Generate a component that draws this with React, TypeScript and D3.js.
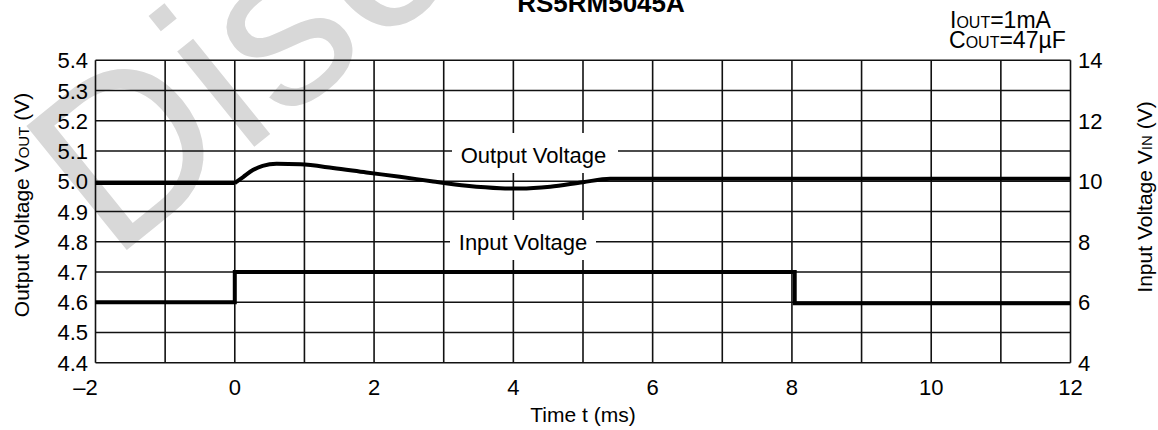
import React from "react";
import * as d3 from "d3";

// Time axis (ms)
const timeTicks = [-2, 0, 2, 4, 6, 8, 10, 12];
const timeGrid = [-2, -1, 0, 1, 2, 3, 4, 5, 6, 7, 8, 9, 10, 11, 12];
// Left axis: output voltage (V)
const voutTicks = [4.4, 4.5, 4.6, 4.7, 4.8, 4.9, 5.0, 5.1, 5.2, 5.3, 5.4];
// Right axis: input voltage (V)
const vinTicks = [4, 6, 8, 10, 12, 14];

// Input voltage step: 6 V -> 7 V at t = 0, back down at t ≈ 8 ms
const vinTime = [-2, 0, 0, 8.04, 8.04, 12];
const vinValue = [6, 6, 7, 7, 5.97, 5.97];

// Output voltage response (steady before the step, then transient)
const voutPreTime = [-2, 0];
const voutPreValue = [4.994, 4.994];
const voutTime = [0, 0.12, 0.26, 0.4, 0.6, 0.94, 1.41, 1.89, 2.37, 2.85, 3.33, 3.81, 4.1, 4.53, 5.0, 5.39, 5.6, 12];
const voutValue = [4.994, 5.014, 5.037, 5.051, 5.058, 5.056, 5.044, 5.029, 5.015, 4.999, 4.985, 4.977, 4.976, 4.982, 4.997, 5.008, 5.008, 5.008];

const W = 1158;
const H = 430;
const M = { left: 95.5, right: 1070.5, top: 60.3, bottom: 362.7 };
const FONT = "'Liberation Sans', Arial, Helvetica, sans-serif";

export default function App() {
  const x = d3.scaleLinear().domain([-2, 12]).range([M.left, M.right]);
  const yL = d3.scaleLinear().domain([4.4, 5.4]).range([M.bottom, M.top]);
  const yR = d3.scaleLinear().domain([4, 14]).range([M.bottom, M.top]);

  const vinPts: [number, number][] = vinTime.map((t, i) => [x(t), yR(vinValue[i])]);
  const prePts: [number, number][] = voutPreTime.map((t, i) => [x(t), yL(voutPreValue[i])]);
  const voutPts: [number, number][] = voutTime.map((t, i) => [x(t), yL(voutValue[i])]);

  const straight = d3.line();
  const smooth = d3.line().curve(d3.curveMonotoneX);

  const gridColor = "#111";

  return (
    <svg
      width={W}
      height={H}
      style={{ position: "absolute", left: 0, top: 0, background: "#fff" }}
      fontFamily={FONT}
    >
      {/* watermark */}
      <text
        transform="translate(112,262) rotate(-39)"
        fontSize={232}
        fill="#d8d8d8"
        fontFamily={FONT}
      >
        Discontinued
      </text>

      {/* title */}
      <text x={601} y={12} textAnchor="middle" fontSize={26} fontWeight="bold" fill="#000">
        RS5RM5045A
      </text>

      {/* conditions */}
      <text x={950} y={28} fontSize={23} fill="#000">
        I<tspan fontSize={16}>OUT</tspan>=1mA
      </text>
      <text x={949} y={48} fontSize={23} fill="#000">
        C<tspan fontSize={16}>OUT</tspan>=47µF
      </text>

      {/* grid */}
      <g stroke={gridColor} strokeWidth={1.6}>
        {timeGrid.map((t) => (
          <line key={"gx" + t} x1={x(t)} x2={x(t)} y1={M.top} y2={M.bottom} />
        ))}
        {voutTicks.map((v) => (
          <line key={"gy" + v} x1={M.left} x2={M.right} y1={yL(v)} y2={yL(v)} />
        ))}
      </g>

      {/* left ticks */}
      {voutTicks.map((v) => (
        <text key={"ly" + v} x={88} y={yL(v) + 8} textAnchor="end" fontSize={22} fill="#000">
          {v.toFixed(1)}
        </text>
      ))}
      {/* right ticks */}
      {vinTicks.map((v) => (
        <text key={"ry" + v} x={1078} y={yR(v) + 8} textAnchor="start" fontSize={22} fill="#000">
          {v}
        </text>
      ))}
      {/* bottom ticks */}
      {timeTicks.map((t) => (
        <text
          key={"bx" + t}
          x={x(t) + (t < 0 ? -10 : 0)}
          y={395}
          textAnchor="middle"
          fontSize={22}
          fill="#000"
        >
          {t < 0 ? "\u2013" + Math.abs(t) : String(t)}
        </text>
      ))}

      {/* axis titles */}
      <text x={583} y={422} textAnchor="middle" fontSize={21} fill="#000">
        Time t (ms)
      </text>
      <text transform="translate(29,205) rotate(-90)" textAnchor="middle" fontSize={21} fill="#000">
        Output Voltage V<tspan fontSize={15}>OUT</tspan> (V)
      </text>
      <text transform="translate(1152,197) rotate(-90)" textAnchor="middle" fontSize={21} fill="#000">
        Input Voltage V<tspan fontSize={15}>IN</tspan> (V)
      </text>

      {/* inline labels */}
      <rect x={452} y={133} width={166} height={40} fill="#fff" />
      <text x={533.5} y={163} textAnchor="middle" fontSize={22} fill="#000">
        Output Voltage
      </text>
      <rect x={450} y={220} width={146} height={40} fill="#fff" />
      <text x={523} y={250} textAnchor="middle" fontSize={22} fill="#000">
        Input Voltage
      </text>

      {/* traces */}
      <path d={straight(vinPts) ?? ""} fill="none" stroke="#000" strokeWidth={4} strokeLinejoin="miter" />
      <path d={straight(prePts) ?? ""} fill="none" stroke="#000" strokeWidth={4} />
      <path d={smooth(voutPts) ?? ""} fill="none" stroke="#000" strokeWidth={4} strokeLinejoin="round" />
    </svg>
  );
}
